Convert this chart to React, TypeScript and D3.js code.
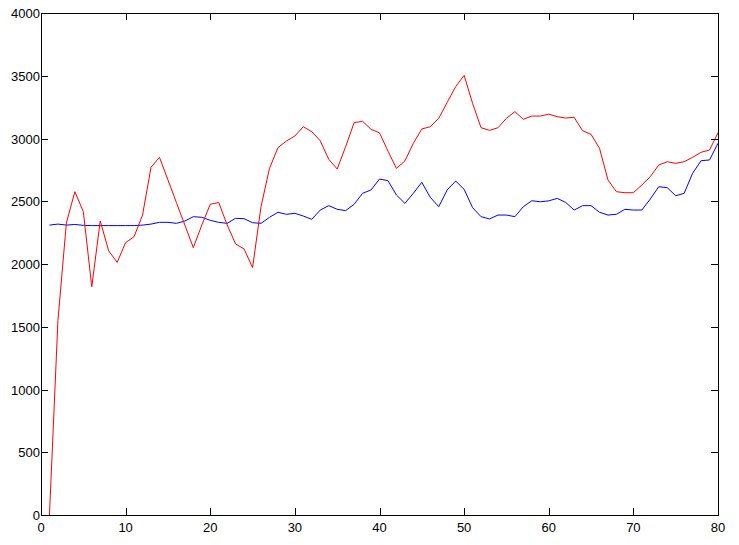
import React from "react";
import * as d3 from "d3";

const redValues = [
  0, 1550, 2327, 2576, 2417, 1819, 2343, 2104, 2013, 2170,
  2218, 2390, 2770, 2850, 2670, 2490, 2310, 2130, 2310, 2476,
  2490, 2311, 2159, 2120, 1971, 2457, 2762, 2927, 2980, 3020,
  3094, 3054, 2982, 2834, 2757, 2935, 3126, 3137, 3073, 3045,
  2900, 2762, 2821, 2962, 3076, 3094, 3161, 3288, 3413, 3503,
  3280, 3086, 3065, 3086, 3161, 3214, 3153, 3179, 3179, 3194,
  3174, 3163, 3169, 3062, 3033, 2922, 2669, 2576, 2568, 2568,
  2629, 2696, 2789, 2815, 2802, 2815, 2850, 2890, 2908, 3046,
];

const blueValues = [
  2310, 2318, 2310, 2315, 2308, 2306, 2306, 2306, 2306, 2306,
  2306, 2310, 2318, 2332, 2332, 2324, 2342, 2377, 2372, 2348,
  2332, 2324, 2364, 2361, 2329, 2324, 2372, 2412, 2396, 2404,
  2382, 2356, 2430, 2465, 2436, 2425, 2476, 2563, 2590, 2677,
  2664, 2550, 2483, 2563, 2651, 2531, 2457, 2590, 2661, 2595,
  2449, 2377, 2359, 2390, 2390, 2377, 2457, 2504, 2496, 2503,
  2523, 2491, 2430, 2465, 2465, 2412, 2390, 2396, 2436, 2430,
  2430, 2518, 2616, 2608, 2544, 2563, 2723, 2823, 2829, 2962,
];

const xTicks = [0, 10, 20, 30, 40, 50, 60, 70, 80];
const yTicks = [0, 500, 1000, 1500, 2000, 2500, 3000, 3500, 4000];

const W = 739;
const H = 545;
const L = 41;
const R = 718;
const T = 13;
const B = 515;

export default function App() {
  const x = d3.scaleLinear().domain([0, 80]).range([L, R]);
  const y = d3.scaleLinear().domain([0, 4000]).range([B, T]);
  const line = d3
    .line<number>()
    .x((_, i) => x(i + 1))
    .y((d) => y(d));
  const font = "'Liberation Sans', Arial, sans-serif";
  const tick = 7;
  return (
    <svg
      width={W}
      height={H}
      style={{ position: "absolute", left: 0, top: 0, background: "#fff" }}
    >
      <rect x={0} y={0} width={W} height={H} fill="#fff" />
      <path d={line(blueValues) || ""} fill="none" stroke="#0000ff" strokeWidth={1} />
      <path d={line(redValues) || ""} fill="none" stroke="#ff0000" strokeWidth={1} />
      <rect
        x={L + 0.5}
        y={T + 0.5}
        width={R - L}
        height={B - T}
        fill="none"
        stroke="#000"
        strokeWidth={1}
      />
      {xTicks.map((t) => (
        <g key={"x" + t}>
          <line x1={Math.round(x(t)) + 0.5} x2={Math.round(x(t)) + 0.5} y1={B} y2={B - tick} stroke="#000" />
          <line x1={Math.round(x(t)) + 0.5} x2={Math.round(x(t)) + 0.5} y1={T} y2={T + tick} stroke="#000" />
          <text
            x={x(t)}
            y={B + 17}
            textAnchor="middle"
            fontFamily={font}
            fontSize={13}
            fill="#000"
          >
            {t}
          </text>
        </g>
      ))}
      {yTicks.map((t) => (
        <g key={"y" + t}>
          <line x1={L} x2={L + tick} y1={Math.round(y(t)) + 0.5} y2={Math.round(y(t)) + 0.5} stroke="#000" />
          <line x1={R} x2={R - tick} y1={Math.round(y(t)) + 0.5} y2={Math.round(y(t)) + 0.5} stroke="#000" />
          <text
            x={L - 1}
            y={y(t) + 5}
            textAnchor="end"
            fontFamily={font}
            fontSize={13}
            fill="#000"
          >
            {t}
          </text>
        </g>
      ))}
    </svg>
  );
}
